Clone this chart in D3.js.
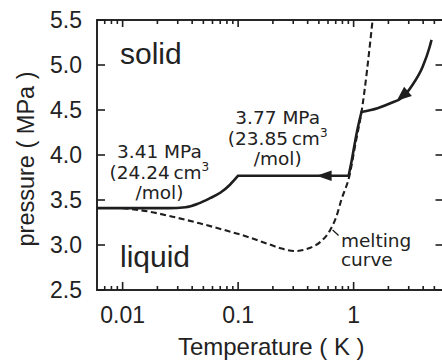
<!DOCTYPE html>
<html>
<head>
<meta charset="utf-8">
<script src="https://cdn.jsdelivr.net/npm/d3@7"></script>
<style>
  html, body { margin: 0; padding: 0; background: #fff; }
  svg { display: block; }
</style>
</head>
<body>
<svg id="chart" width="442" height="360"></svg>
<script>
// Melting curve (temperature in K, pressure in MPa)
const meltT = [0.01, 0.0171, 0.0271, 0.0464, 0.0734, 0.126, 0.187, 0.233, 0.315, 0.416, 0.518, 0.62, 0.708, 0.782, 0.923, 1.04, 1.17, 1.46];
const meltP = [3.41, 3.37, 3.314, 3.241, 3.172, 3.083, 3.006, 2.963, 2.933, 2.967, 3.037, 3.156, 3.314, 3.50, 3.778, 4.133, 4.478, 5.5];

// Sample trajectory, drawn as one continuous solid line
const riseT = [0.006, 0.025, 0.035, 0.045, 0.057, 0.07, 0.085, 0.1];
const riseP = [3.41, 3.41, 3.42, 3.46, 3.52, 3.58, 3.67, 3.77];
const plateauT = [0.1, 0.905];
const plateauP = [3.77, 3.77];
const climbT = [0.905, 0.96, 1.02, 1.09, 1.17];
const climbP = [3.77, 3.93, 4.12, 4.31, 4.478];
const coolT = [1.17, 1.61, 2.13, 2.65, 3.24, 3.96, 4.55, 4.73];
const coolP = [4.478, 4.52, 4.58, 4.64, 4.78, 4.98, 5.20, 5.28];

// Arrowhead tips along the trajectory (temperature, K)
const arrowTipT = [0.478, 2.36];

// Axis ticks
const yTicks = [2.5, 3.0, 3.5, 4.0, 4.5, 5.0, 5.5];
const yTickLabels = ["2.5", "3.0", "3.5", "4.0", "4.5", "5.0", "5.5"];
const xTicks = [0.01, 0.1, 1];
const xTickLabels = ["0.01", "0.1", "1"];
const xMinorTicks = [0.007, 0.008, 0.009,
  0.02, 0.03, 0.04, 0.05, 0.06, 0.07, 0.08, 0.09,
  0.2, 0.3, 0.4, 0.5, 0.6, 0.7, 0.8, 0.9,
  2, 3, 4, 5];

(function draw() {
  const ink = "#1e1e1e";
  const svg = d3.select("#chart");
  svg.append("rect").attr("width", 442).attr("height", 360).attr("fill", "#fff");

  const pLeft = 97, pTop = 20, pBottom = 290, pRight = 443.5;
  const x = d3.scaleLog().domain([0.006, 6]).range([pLeft, pRight]);
  const y = d3.scaleLinear().domain([2.5, 5.5]).range([pBottom, pTop]);

  svg.append("clipPath").attr("id", "plot")
    .append("rect").attr("x", pLeft).attr("y", pTop)
    .attr("width", pRight - pLeft).attr("height", pBottom - pTop);
  const plot = svg.append("g").attr("clip-path", "url(#plot)");

  const zip = (ts, ps) => ts.map((t, i) => [t, ps[i]]);
  const line = d3.line().x(d => x(d[0])).y(d => y(d[1])).curve(d3.curveMonotoneX);
  const straight = d3.line().x(d => x(d[0])).y(d => y(d[1]));

  // Dashed melting curve
  plot.append("path")
    .attr("d", line(zip(meltT, meltP)))
    .attr("fill", "none")
    .attr("stroke", ink)
    .attr("stroke-width", 2.1)
    .attr("stroke-dasharray", "6,3.5");

  // Solid trajectory: segments joined with sharp corners
  const segs = [zip(riseT, riseP), zip(plateauT, plateauP), zip(climbT, climbP), zip(coolT, coolP)];
  const dTraj = segs.map((s, i) => {
    const d = (s.length === 2 ? straight(s) : line(s));
    return i ? d.replace(/^M/, "L") : d;
  }).join("");
  const traj = plot.append("path")
    .attr("d", dTraj)
    .attr("fill", "none")
    .attr("stroke", ink)
    .attr("stroke-width", 2.6)
    .attr("stroke-linejoin", "miter");

  // Arrowheads pointing towards lower temperature along the trajectory
  const node = traj.node();
  const total = node.getTotalLength();
  function lengthAtX(px) {
    let lo = 0, hi = total;
    for (let k = 0; k < 60; k++) {
      const mid = (lo + hi) / 2;
      if (node.getPointAtLength(mid).x < px) lo = mid; else hi = mid;
    }
    return (lo + hi) / 2;
  }
  const arrowSize = [[15, 5.2], [15, 6]];
  arrowTipT.forEach((t, i) => {
    const L = lengthAtX(x(t));
    const tip = node.getPointAtLength(L);
    const base = node.getPointAtLength(Math.min(total, L + arrowSize[i][0]));
    const dx = tip.x - base.x, dy = tip.y - base.y;
    const len = Math.hypot(dx, dy);
    const nx = -dy / len, ny = dx / len, w = arrowSize[i][1];
    svg.append("path")
      .attr("d", `M${tip.x},${tip.y}L${base.x + nx * w},${base.y + ny * w}L${base.x - nx * w},${base.y - ny * w}Z`)
      .attr("fill", ink);
  });

  // Leader from the melting curve to its label
  const leaderT = [0.658, 0.741];
  const leaderP = [3.167, 3.106];
  svg.append("path")
    .attr("d", straight(zip(leaderT, leaderP)))
    .attr("stroke", ink).attr("stroke-width", 1.3).attr("fill", "none");

  // Frame
  svg.append("rect").attr("x", pLeft).attr("y", pTop)
    .attr("width", pRight - pLeft).attr("height", pBottom - pTop)
    .attr("stroke", ink).attr("stroke-width", 1.9).attr("fill", "none");

  // Ticks (inward)
  const tk = svg.append("g").attr("stroke", ink).attr("stroke-width", 1.6);
  yTicks.forEach(v => {
    tk.append("line").attr("x1", pLeft).attr("x2", pLeft + 8).attr("y1", y(v)).attr("y2", y(v));
    tk.append("line").attr("x1", pRight).attr("x2", pRight - 8).attr("y1", y(v)).attr("y2", y(v));
  });
  xTicks.forEach(v => {
    tk.append("line").attr("x1", x(v)).attr("x2", x(v)).attr("y1", pBottom).attr("y2", pBottom - 8);
    tk.append("line").attr("x1", x(v)).attr("x2", x(v)).attr("y1", pTop).attr("y2", pTop + 7);
  });
  xMinorTicks.forEach(v => {
    tk.append("line").attr("x1", x(v)).attr("x2", x(v)).attr("y1", pBottom).attr("y2", pBottom - 4);
    tk.append("line").attr("x1", x(v)).attr("x2", x(v)).attr("y1", pTop).attr("y2", pTop + 4);
  });

  // Tick labels
  const sans = "'Liberation Sans', Arial, sans-serif";
  const txtColor = "#222";
  yTicks.forEach((v, i) => {
    svg.append("text").attr("x", 82).attr("y", y(v)).attr("dy", "0.36em")
      .attr("text-anchor", "end").attr("font-family", sans).attr("font-size", 23)
      .attr("fill", txtColor).text(yTickLabels[i]);
  });
  xTicks.forEach((v, i) => {
    svg.append("text").attr("x", x(v)).attr("y", 323)
      .attr("text-anchor", "middle").attr("font-family", sans).attr("font-size", 23)
      .attr("fill", txtColor).text(xTickLabels[i]);
  });

  // Axis titles
  svg.append("text").attr("x", (pLeft + pRight) / 2 + 1).attr("y", 355)
    .attr("text-anchor", "middle").attr("font-family", sans).attr("font-size", 24)
    .attr("fill", txtColor).text("Temperature ( K )");
  svg.append("text").attr("transform", "translate(33.5,159) rotate(-90)")
    .attr("text-anchor", "middle").attr("font-family", sans).attr("font-size", 23.5)
    .attr("fill", txtColor).text("pressure ( MPa )");

  // Phase labels
  svg.append("text").attr("x", 120).attr("y", 64)
    .attr("font-family", sans).attr("font-size", 30).attr("fill", txtColor).text("solid");
  svg.append("text").attr("x", 120).attr("y", 267)
    .attr("font-family", sans).attr("font-size", 30).attr("fill", txtColor).text("liquid");

  // Pressure / molar volume annotations
  const note = "'DejaVu Sans', Verdana, sans-serif";
  function annotate(cx, by, mpa, vol) {
    const g = svg.append("text").attr("font-family", note).attr("font-size", 18.5)
      .attr("fill", txtColor).attr("text-anchor", "middle");
    g.append("tspan").attr("x", cx).attr("y", by).text(mpa + " MPa");
    const l2 = g.append("tspan").attr("x", cx).attr("y", by + 21);
    l2.append("tspan").text("(" + vol + "\u2009cm");
    l2.append("tspan").attr("font-size", 12).attr("dy", -8).text("3");
    g.append("tspan").attr("x", cx).attr("y", by + 41).text("/mol)");
  }
  annotate(x(0.02) + 2, y(3.97), "3.41", "24.24");
  annotate(x(0.22), y(4.345), "3.77", "23.85");

  // Melting curve label
  const mx = x(0.776), my = y(2.978);
  [["melting", 0], ["curve", 19.5]].forEach(([s, off]) => {
    svg.append("text").attr("x", mx).attr("y", my + off)
      .attr("font-family", note).attr("font-size", 18.5).attr("fill", txtColor).text(s);
  });
})();
</script>
</body>
</html>
